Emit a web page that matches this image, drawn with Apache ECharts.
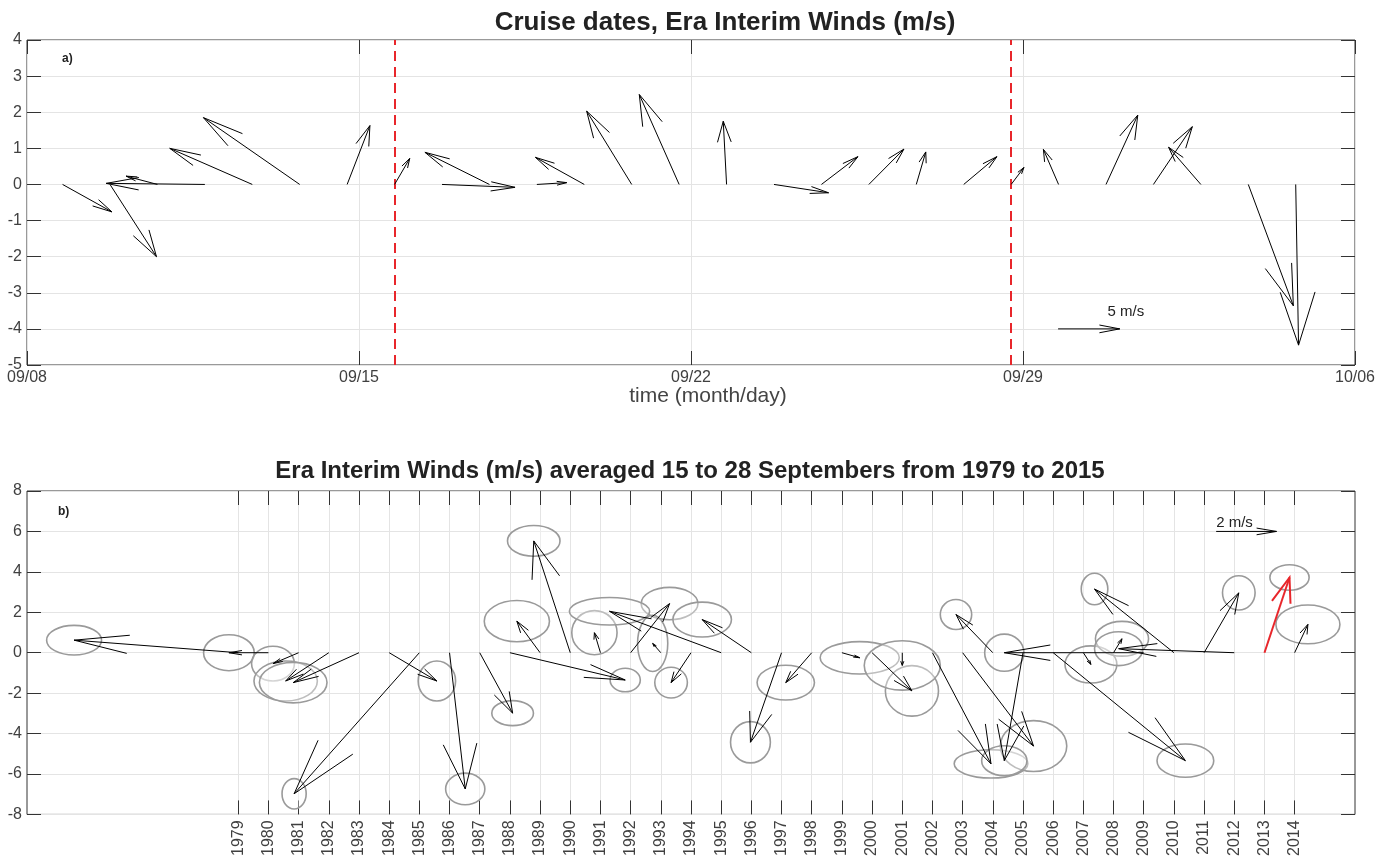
<!DOCTYPE html>
<html>
<head>
<meta charset="utf-8">
<title>Era Interim Winds</title>
<script src="https://cdn.jsdelivr.net/npm/echarts@6.0.0/dist/echarts.min.js"></script>
<style>
  html, body { margin: 0; padding: 0; background: #fff; }
  #chart { width: 1381px; height: 859px; }
</style>
</head>
<body>
<div id="chart"></div>
<script>
// a) cruise: one wind vector a day, tail at 18:00 (days counted from 09/08 00:00)
const cruiseTail = [0.75, 1.75, 2.75, 3.75, 4.75, 5.75, 6.75, 7.75, 8.75, 9.75, 10.75, 11.75, 12.75, 13.75,
  14.75, 15.75, 16.75, 17.75, 18.75, 19.75, 20.75, 21.75, 22.75, 23.75, 24.75, 25.75, 26.75]
const cruiseU = [1.04, 0.98, -0.66, -2.08, -1.74, -2.03, 0.48, 0.32, 1.54, -1.36, 0.63, -1.03, -0.95, -0.84,
  -0.07, 1.15, 0.77, 0.74, 0.20, 0.70, 0.27, -0.32, 0.67, 0.82, -0.68, 0.95, 0.06]
const cruiseV = [-0.76, -2.00, 0.23, 0.03, 1.00, 1.85, 1.63, 0.72, -0.08, 0.89, 0.05, 0.75, 2.03, 2.49,
  1.75, -0.23, 0.77, 0.98, 0.90, 0.77, 0.47, 0.97, 1.92, 1.60, 1.03, -3.36, -4.45]
const cruiseTickLabels = ['09/08', '09/15', '09/22', '09/29', '10/06']
const cruiseLimits = [7.75, 20.75] // start / end of the averaging window
const cruiseKey = [21.74, -4, 1.3, 0] // 5 m/s

// b) 15-28 September means, one vector per year, with error ellipse at the tip
const years = [1979, 1980, 1981, 1982, 1983, 1984, 1985, 1986, 1987, 1988, 1989, 1990, 1991, 1992, 1993, 1994, 1995, 1996,
  1997, 1998, 1999, 2000, 2001, 2002, 2003, 2004, 2005, 2006, 2007, 2008, 2009, 2010, 2011, 2012, 2013, 2014]
const meanU = [-5.44, -1.31, -0.85, -1.43, -2.18, 1.58, -4.15, 0.52, 1.09, 3.82, -0.77, -1.21, -0.20, 1.29, -0.27, -0.66, -3.70, -1.63,
  -1.03, -0.86, 0.59, 1.32, 0.00, 1.94, 2.35, -1.22, -0.62, 4.38, 0.25, 0.28, -4.62, -2.63, 1.15, -3.83, 0.83, 0.44]
const meanV = [0.62, 0.00, -0.54, -1.40, -1.48, -1.40, -6.98, -6.74, -2.99, -1.35, 1.56, 5.53, 0.99, 2.43, 0.46, -1.48, 2.05, 1.64,
  -4.43, -1.48, -0.25, -1.89, -0.63, -5.50, -4.62, 1.89, -5.34, -5.34, -0.58, 0.69, 0.00, 3.15, 2.96, 0.20, 3.72, 1.40]
const errU = [0.91, 0.84, 0.71, 1.05, 1.12, 0.62, 0.40, 0.65, 0.69, 0.50, 1.08, 0.87, 0.75, 0.94, 0.50, 0.54, 1.33, 0.97,
  0.66, 0.95, 1.31, 0.88, 1.26, 1.22, 1.10, 0.52, 0.75, 0.94, 0.86, 0.88, 0.65, 0.44, 0.54, 0.80, 0.65, 1.06]
const errV = [0.73, 0.89, 0.86, 0.99, 1.00, 0.99, 0.75, 0.78, 0.62, 0.58, 1.02, 0.76, 1.09, 0.80, 1.39, 0.76, 0.68, 0.86,
  1.02, 0.86, 0.80, 1.25, 1.22, 0.70, 1.26, 0.74, 0.74, 0.82, 0.92, 0.86, 0.92, 0.78, 0.85, 0.84, 0.63, 0.96]
const meanKey = [2011.4, 6, 2, 0] // 2 m/s
const highlightYear = 2013

const FONT = '"Liberation Sans", Arial, Helvetica, sans-serif'
const TEXT = '#404040'
const GRID = '#e4e4e4'
const RED = '#e8262b'

const chart = echarts.init(document.getElementById('chart'))

// arrow like matlab quiver: head 0.33 of length, half width 0.25
function arrow (api, x, y, u, v, color, width) {
  const a = 0.33
  const b = 0.25
  const tail = api.coord([x, y])
  const tip = api.coord([x + u, y + v])
  const h1 = api.coord([x + u - a * (u + b * v), y + v - a * (v - b * u)])
  const h2 = api.coord([x + u - a * (u - b * v), y + v - a * (v + b * u)])
  const style = { stroke: color, lineWidth: width, fill: null }
  return [
    { type: 'line', shape: { x1: tail[0], y1: tail[1], x2: tip[0], y2: tip[1] }, style: style },
    { type: 'polyline', shape: { points: [h1, tip, h2] }, style: style }
  ]
}

function keyItem (label, labelPos, align) {
  return function (params, api) {
    const k = [api.value(0), api.value(1), api.value(2), api.value(3)]
    const p = api.coord(labelPos)
    return {
      type: 'group',
      children: arrow(api, k[0], k[1], k[2], k[3], '#000', 1).concat([{
        type: 'text',
        style: {
          text: label, x: p[0], y: p[1], fill: '#222', font: '15px ' + FONT,
          textAlign: align, align: align, textVerticalAlign: 'middle', verticalAlign: 'middle'
        }
      }])
    }
  }
}

function valueAxis (grid, pos, min, max, interval, extra) {
  return Object.assign({
    type: 'value',
    gridIndex: grid,
    position: pos,
    min: min,
    max: max,
    interval: interval,
    axisLine: { show: false, onZero: false },
    axisTick: { show: true, inside: true, length: 14, lineStyle: { color: '#333' } },
    axisLabel: { show: false },
    splitLine: { show: false }
  }, extra)
}

function centeredText (text, x, y, font, fill) {
  return {
    type: 'text',
    x: x,
    y: y,
    style: {
      text: text, font: font, fill: fill,
      textAlign: 'center', align: 'center', textVerticalAlign: 'middle', verticalAlign: 'middle'
    }
  }
}

const tickLabel = { show: true, fontSize: 16, color: TEXT, fontFamily: FONT }

const option = {
  animation: false,
  backgroundColor: '#fff',
  graphic: [
    centeredText('Cruise dates, Era Interim Winds (m/s)', 725, 23, 'bold 26px ' + FONT, '#222'),
    centeredText('Era Interim Winds (m/s) averaged 15 to 28 Septembers from 1979 to 2015', 690, 471, 'bold 24px ' + FONT, '#222'),
    centeredText('time (month/day)', 708, 396, '21px ' + FONT, '#444'),
    { type: 'text', left: 62, top: 53, style: { text: 'a)', font: 'bold 12px ' + FONT, fill: '#222' } },
    { type: 'text', left: 58, top: 506, style: { text: 'b)', font: 'bold 12px ' + FONT, fill: '#222' } }
  ],
  grid: [
    { left: 27, top: 40, width: 1328, height: 325, show: true, borderColor: '#333', borderWidth: 1 },
    { left: 27, top: 491, width: 1328, height: 325, show: true, borderColor: '#333', borderWidth: 1 }
  ],
  xAxis: [
    valueAxis(0, 'bottom', 0, 28, 7, {
      axisLabel: Object.assign({ margin: 5, formatter: v => cruiseTickLabels[Math.round(v / 7)] }, tickLabel),
      splitLine: { show: true, lineStyle: { color: GRID } }
    }),
    valueAxis(0, 'top', 0, 28, 7),
    valueAxis(1, 'bottom', 1972, 2016, 1, {
      axisTick: { show: true, inside: true, length: 14, lineStyle: { color: '#333' }, customValues: years },
      axisLabel: Object.assign({ margin: 6, rotate: 90, customValues: years, formatter: v => String(v) }, tickLabel),
      splitLine: { show: true, lineStyle: { color: GRID } }
    }),
    valueAxis(1, 'top', 1972, 2016, 1, {
      axisTick: { show: true, inside: true, length: 14, lineStyle: { color: '#333' }, customValues: years }
    })
  ],
  yAxis: [
    valueAxis(0, 'left', -5, 4, 1, {
      axisLabel: Object.assign({ margin: 5 }, tickLabel),
      splitLine: { show: true, lineStyle: { color: GRID } }
    }),
    valueAxis(0, 'right', -5, 4, 1),
    valueAxis(1, 'left', -8, 8, 2, {
      axisLabel: Object.assign({ margin: 5 }, tickLabel),
      splitLine: { show: true, lineStyle: { color: GRID } }
    }),
    valueAxis(1, 'right', -8, 8, 2)
  ],
  series: [
    {
      name: 'cruise winds',
      type: 'custom',
      xAxisIndex: 0,
      yAxisIndex: 0,
      silent: true,
      z: 5,
      data: cruiseTail.map((t, i) => [t, 0, cruiseU[i], cruiseV[i]]),
      renderItem: function (params, api) {
        return {
          type: 'group',
          children: arrow(api, api.value(0), api.value(1), api.value(2), api.value(3), '#000', 1)
        }
      },
      markLine: {
        silent: true,
        symbol: ['none', 'none'],
        label: { show: false },
        lineStyle: { color: RED, type: [10, 6], width: 2 },
        data: cruiseLimits.map(x => ({ xAxis: x }))
      }
    },
    {
      name: 'cruise key',
      type: 'custom',
      xAxisIndex: 0,
      yAxisIndex: 0,
      silent: true,
      z: 5,
      data: [cruiseKey],
      renderItem: keyItem('5 m/s', [23.17, -3.53], 'center')
    },
    {
      name: 'error ellipses',
      type: 'custom',
      xAxisIndex: 2,
      yAxisIndex: 2,
      silent: true,
      z: 3,
      data: years.map((y, i) => [y + meanU[i], meanV[i], errU[i], errV[i]]),
      renderItem: function (params, api) {
        const c = api.coord([api.value(0), api.value(1)])
        const s = api.size([api.value(2), api.value(3)])
        return {
          type: 'ellipse',
          shape: { cx: c[0], cy: c[1], rx: s[0], ry: s[1] },
          style: { stroke: '#9a9a9a', lineWidth: 1.6, fill: 'rgba(255,255,255,0.35)' }
        }
      }
    },
    {
      name: 'yearly winds',
      type: 'custom',
      xAxisIndex: 2,
      yAxisIndex: 2,
      silent: true,
      z: 5,
      data: years.map((y, i) => [y, 0, meanU[i], meanV[i]]),
      renderItem: function (params, api) {
        const red = years[params.dataIndex] === highlightYear
        return {
          type: 'group',
          children: arrow(api, api.value(0), api.value(1), api.value(2), api.value(3),
            red ? RED : '#000', red ? 2 : 1)
        }
      }
    },
    {
      name: 'yearly key',
      type: 'custom',
      xAxisIndex: 2,
      yAxisIndex: 2,
      silent: true,
      z: 5,
      data: [meanKey],
      renderItem: keyItem('2 m/s', [2011.4, 6.42], 'left')
    }
  ]
}

chart.setOption(option)
</script>
</body>
</html>
